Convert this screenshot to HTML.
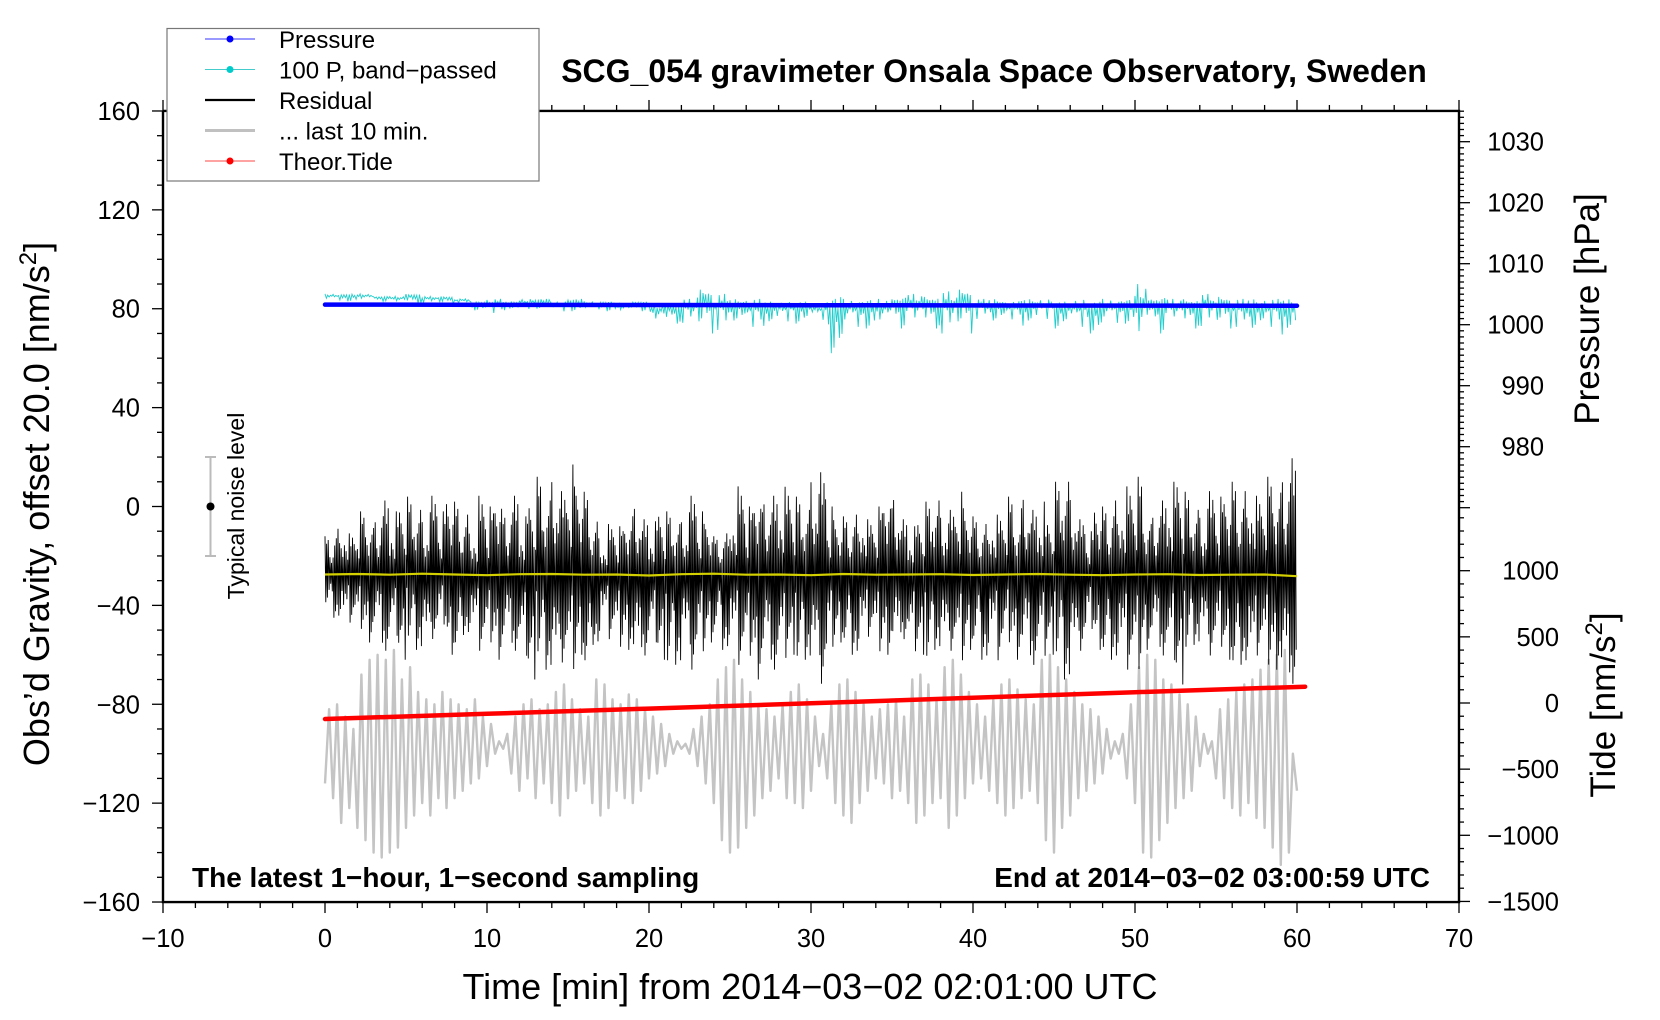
<!DOCTYPE html>
<html><head><meta charset="utf-8"><style>
html,body{margin:0;padding:0;background:#fff}
svg{display:block;font-family:"Liberation Sans",sans-serif}
</style></head><body>
<svg id="c" width="1660" height="1020" viewBox="0 0 1660 1020">
<g id="marks"></g>
<g id="axes"></g>
<text x="994" y="82" text-anchor="middle" font-size="32" font-weight="bold">SCG_054 gravimeter Onsala Space Observatory, Sweden</text>
<text x="192" y="887" font-size="28" font-weight="bold">The latest 1−hour, 1−second sampling</text>
<text x="1430" y="887" text-anchor="end" font-size="28" font-weight="bold">End at 2014−03−02 03:00:59 UTC</text>
<text x="810" y="999" text-anchor="middle" font-size="36">Time [min] from 2014−03−02 02:01:00 UTC</text>
<text transform="translate(49,504) rotate(-90)" text-anchor="middle" font-size="36">Obs’d Gravity, offset 20.0 [nm/s<tspan dy="-13" font-size="24">2</tspan><tspan dy="13">]</tspan></text>
<text transform="translate(1599,309) rotate(-90)" text-anchor="middle" font-size="35">Pressure [hPa]</text>
<text transform="translate(1615,705) rotate(-90)" text-anchor="middle" font-size="35">Tide [nm/s<tspan dy="-13" font-size="24">2</tspan><tspan dy="13">]</tspan></text>
<g>
<line x1="210.5" y1="457" x2="210.5" y2="556" stroke="#bbb" stroke-width="2"/>
<line x1="205" y1="457" x2="216" y2="457" stroke="#bbb" stroke-width="2"/>
<line x1="205" y1="556" x2="216" y2="556" stroke="#bbb" stroke-width="2"/>
<circle cx="210.5" cy="506.5" r="4" fill="#000"/>
<text transform="translate(244,506) rotate(-90)" text-anchor="middle" font-size="23">Typical noise level</text>
</g>
<g>
<rect x="167" y="28.5" width="372" height="152.5" fill="#fff" stroke="#777" stroke-width="1.2"/>
<g><line x1="205" y1="39" x2="255" y2="39" stroke="#33f" stroke-width="1"/><circle cx="230" cy="39" r="3.5" fill="#00f"/><text x="279" y="48" font-size="24">Pressure</text></g>
<g><line x1="205" y1="69.5" x2="255" y2="69.5" stroke="#4cc" stroke-width="1"/><circle cx="230" cy="69.5" r="3.5" fill="#0cc"/><text x="279" y="78.5" font-size="24">100 P, band−passed</text></g>
<g><line x1="205" y1="100" x2="255" y2="100" stroke="#000" stroke-width="2.2"/><text x="279" y="109" font-size="24">Residual</text></g>
<g><line x1="205" y1="130.5" x2="255" y2="130.5" stroke="#c0c0c0" stroke-width="3"/><text x="279" y="139.5" font-size="24">... last 10 min.</text></g>
<g><line x1="205" y1="161" x2="255" y2="161" stroke="#f44" stroke-width="1"/><circle cx="230" cy="161" r="3.5" fill="#f00"/><text x="279" y="170" font-size="24">Theor.Tide</text></g>
</g>
</svg>
<script>
// ---- data ----
const xTicks = [-10,0,10,20,30,40,50,60,70];
const yTicks = [160,120,80,40,0,-40,-80,-120,-160];
const pTicks = [1030,1020,1010,1000,990,980];
const tideTicks = [1000,500,0,-500,-1000,-1500];
const residualHi = [-12,-8,-4,-10,-2,-6,-4,4,-2,2, 4,0,-4,6,-2,6,2,-2,-6,6, 0,8,-2,6,-4,4,12,4,14,8, 17,10,6,-5,-12,-6,-8,-4,2,-4, -6,0,-2,-6,-4,6,-2,-6,-12,-10, 4,10,0,8,4,6,8,10,4,0, 14,16,0,-6,-4,-2,2,-4,0,8, 6,-4,-8,-4,2,4,-2,0,6,-2, -4,-6,0,-2,4,-6,6,0,2,-4, 10,12,6,-4,-10,2,0,4,8,10, 12,-4,-2,4,10,14,6,0,-2,8, 4,6,10,8,14,6,12,8,14,22];
const residualLo = [-40,-45,-50,-48,-52,-55,-50,-60,-55,-62, -55,-58,-62,-55,-50,-60,-58,-52,-55,-60, -58,-62,-55,-60,-64,-70,-62,-66,-72,-65, -70,-60,-66,-56,-50,-55,-60,-58,-65,-62, -58,-62,-66,-64,-60,-68,-62,-55,-50,-58, -60,-66,-64,-70,-62,-68,-65,-60,-64,-62, -68,-74,-60,-55,-56,-60,-58,-54,-62,-60, -58,-55,-62,-60,-64,-58,-62,-60,-66,-58, -55,-62,-60,-64,-58,-62,-60,-66,-64,-60, -62,-70,-66,-60,-52,-58,-60,-62,-66,-68, -70,-58,-55,-62,-66,-72,-60,-56,-58,-62, -60,-62,-66,-64,-70,-62,-68,-66,-72,-74];
const residualMean = [-27.5,-27.3,-27.6,-27.2,-27.5,-27.8,-27.4,-27.3,-27.6,-27.5,-27.9,-27.4,-27.2,-27.6,-27.5,-27.8,-27.3,-27.6,-27.5,-27.4,-27.7,-27.5,-27.3,-27.6,-27.8,-27.5,-27.4,-27.7,-27.6,-27.5,-28.2];
const lastTenMin = [-112,-82,-118,-80,-128,-85,-122,-90, -130,-68,-135,-62,-140,-60,-142,-62, -140,-58,-138,-70,-130,-65,-125,-75, -120,-78,-125,-80,-118,-75,-122,-78, -118,-80,-115,-82,-112,-78,-110,-85, -105,-88,-100,-95,-98,-92,-108,-85, -115,-80,-110,-78,-118,-82,-112,-80, -120,-75,-125,-72,-118,-78,-115,-82, -112,-85,-120,-70,-125,-72,-122,-78, -115,-80,-118,-76,-120,-78,-115,-82, -110,-85,-108,-88,-105,-92,-100,-95, -98,-96,-100,-90,-105,-85,-112,-80, -120,-70,-135,-65,-140,-62,-138,-70, -130,-75,-125,-80,-118,-82,-115,-85, -110,-80,-118,-75,-120,-72,-122,-78, -115,-85,-105,-92,-110,-80,-120,-72, -125,-70,-128,-75,-120,-80,-115,-85, -110,-82,-112,-80,-118,-78,-115,-85, -120,-70,-128,-68,-125,-72,-120,-78, -118,-65,-130,-62,-125,-68,-118,-75, -112,-80,-110,-85,-115,-78,-120,-72, -125,-70,-122,-74,-118,-78,-115,-80, -120,-62,-135,-60,-140,-65,-130,-70, -125,-75,-118,-80,-115,-82,-112,-85, -108,-90,-102,-95,-100,-92,-110,-80, -120,-65,-140,-60,-142,-62,-135,-70, -128,-72,-122,-76,-118,-80,-115,-85, -105,-92,-100,-95,-110,-82,-118,-78, -122,-75,-125,-72,-120,-70,-126,-66, -130,-62,-138,-60,-145,-58,-140,-100, -115];
const bandHi = [86,86,86,85,85,86,85,85,84,83, 84,83,84,84,83,84,83,83,82,83, 82,82,84,88,86,84,84,83,83,83, 82,85,84,84,84,85,86,85,87,88, 84,84,83,84,84,83,84,83,84,84, 90,85,84,84,86,85,84,84,84,84];
const bandLo = [83,83,83,83,82,82,82,82,82,78, 77,79,79,80,78,79,79,79,78,79, 72,74,72,70,68,72,70,72,73,74, 74,62,70,72,70,72,70,72,66,70, 74,72,74,72,74,72,70,70,72,74, 58,70,72,72,70,72,70,68,70,68];
const pressureTimes = [0,30,60];
const pressureHpa = [1003.3,1003.2,1003.1];
const tideTimes = [0,10,20,30,40,50,60.5];
const tideValues = [-121,-82,-42,-2,40,82,123];

// ---- scales ----
const X = t => 325 + t*16.2;
const Y = g => 506.5 - g*2.472;
const P = p => 141.7 + (1030-p)*6.1;
const T = v => 703 - v*0.1323;
const NS = 'http://www.w3.org/2000/svg';
const marks = document.getElementById('marks');
const axes = document.getElementById('axes');
function mk(tag, parent, attrs){const e=document.createElementNS(NS,tag);for(const k in attrs)e.setAttribute(k,attrs[k]);parent.appendChild(e);return e;}
const patUp=[1,.55,.8,.35,.9,.6,.45,.75,.3,.95,.5,.65,.4,.85,.25,.7];
const patDn=[.6,.9,.4,.75,1,.5,.85,.3,.7,.55,.95,.35,.8,.45,.65,.2];

// gray last 10 min
let d='';
lastTenMin.forEach((v,i)=>{d+=(i?'L':'M')+X(i*0.25).toFixed(1)+' '+Y(v).toFixed(1);});
const gray = mk('path',marks,{d:d,fill:'none',stroke:'#c4c4c4','stroke-width':2.4,'stroke-linejoin':'round'});



// residual
function meanAt(t){const i=Math.min(Math.floor(t/2),residualMean.length-2);const f=t/2-i;return residualMean[i]*(1-f)+residualMean[i+1]*f;}
d='';const sub=10;
residualHi.forEach((hi,i)=>{const lo=residualLo[i];for(let k=0;k<sub;k++){const t=i*0.5+k*0.5/sub;const c=meanAt(t);const j=(i*3+k)%16;const v=(k%2==0)?c+(hi-c)*patUp[j]:c+(lo-c)*patDn[j];d+=(i||k?'L':'M')+X(t).toFixed(1)+' '+Y(v).toFixed(1);}});
const res = mk('path',marks,{d:d,fill:'none',stroke:'#000','stroke-width':0.9});



// yellow mean
d='';residualMean.forEach((v,i)=>{d+=(i?'L':'M')+X(i*2)+' '+Y(v).toFixed(1);});
const yel = mk('path',marks,{d:d,fill:'none',stroke:'#d4d000','stroke-width':2.2});



// band-passed pressure (cyan)
d='';const subc=12;
bandHi.forEach((hi,i)=>{const lo=bandLo[i];const c=lo+(hi-lo)*0.7;for(let k=0;k<subc;k++){const t=i+k/subc;const j=(i*5+k*3)%16;const v=(k%2==0)?c+(hi-c)*patUp[j]:c+(lo-c)*Math.pow(patDn[j],3);d+=(i||k?'L':'M')+X(t).toFixed(1)+' '+Y(v).toFixed(1);}});
const cy = mk('path',marks,{d:d,fill:'none',stroke:'#22cccc','stroke-width':0.9});



// pressure
d='';pressureHpa.forEach((p,i)=>{d+=(i?'L':'M')+X(pressureTimes[i])+' '+P(p).toFixed(1);});
const pr = mk('path',marks,{d:d,fill:'none',stroke:'#0000ff','stroke-width':4.5,'stroke-linecap':'round'});



// tide
d='';tideValues.forEach((v,i)=>{d+=(i?'L':'M')+X(tideTimes[i])+' '+T(v).toFixed(1);});
const td = mk('path',marks,{d:d,fill:'none',stroke:'#ff0000','stroke-width':4.5,'stroke-linecap':'round'});



// ---- axes ----
const L=X(-10), R=X(70), TOP=Y(160), BOT=Y(-160);
const frame = mk('path',axes,{d:`M${L} ${TOP}V${BOT}H${R}V${TOP}H${L}`,fill:'none',stroke:'#000','stroke-width':2.4});


for(let t=-10;t<=70;t+=2){const major=t%10==0;mk('line',axes,{x1:X(t),x2:X(t),y1:BOT,y2:BOT+(major?11:6),stroke:'#000','stroke-width':1.3});mk('line',axes,{x1:X(t),x2:X(t),y1:TOP,y2:TOP-(major?11:6),stroke:'#000','stroke-width':1.3});}
xTicks.forEach(t=>{const e=mk('text',axes,{x:X(t),y:947,'text-anchor':'middle','font-size':25.5});e.textContent=String(t).replace('-','−');

});
for(let g=-160;g<=160;g+=10){const major=g%40==0;mk('line',axes,{x1:L,x2:L-(major?11:6),y1:Y(g),y2:Y(g),stroke:'#000','stroke-width':1.3});}
yTicks.forEach(g=>{const e=mk('text',axes,{x:140,y:Y(g)+9,'text-anchor':'end','font-size':25.5});e.textContent=String(g).replace('-','−');

});
for(let p=1035;p>=970;p--){const major=p%10==0;const y=P(p);if(y<TOP)continue;mk('line',axes,{x1:R,x2:R+(major?11:5),y1:y,y2:y,stroke:'#000','stroke-width':1.3});}
pTicks.forEach(p=>{const e=mk('text',axes,{x:1544,y:P(p)+9,'text-anchor':'end','font-size':25.5});e.textContent=p;

});
for(let v=-1500;v<=1400;v+=100){const major=v%500==0;mk('line',axes,{x1:R,x2:R+(major?11:5),y1:T(v),y2:T(v),stroke:'#000','stroke-width':1.3});}
tideTicks.forEach(v=>{const e=mk('text',axes,{x:1559,y:T(v)+9,'text-anchor':'end','font-size':25.5});e.textContent=String(v).replace('-','−');

});
</script>
</body></html>
